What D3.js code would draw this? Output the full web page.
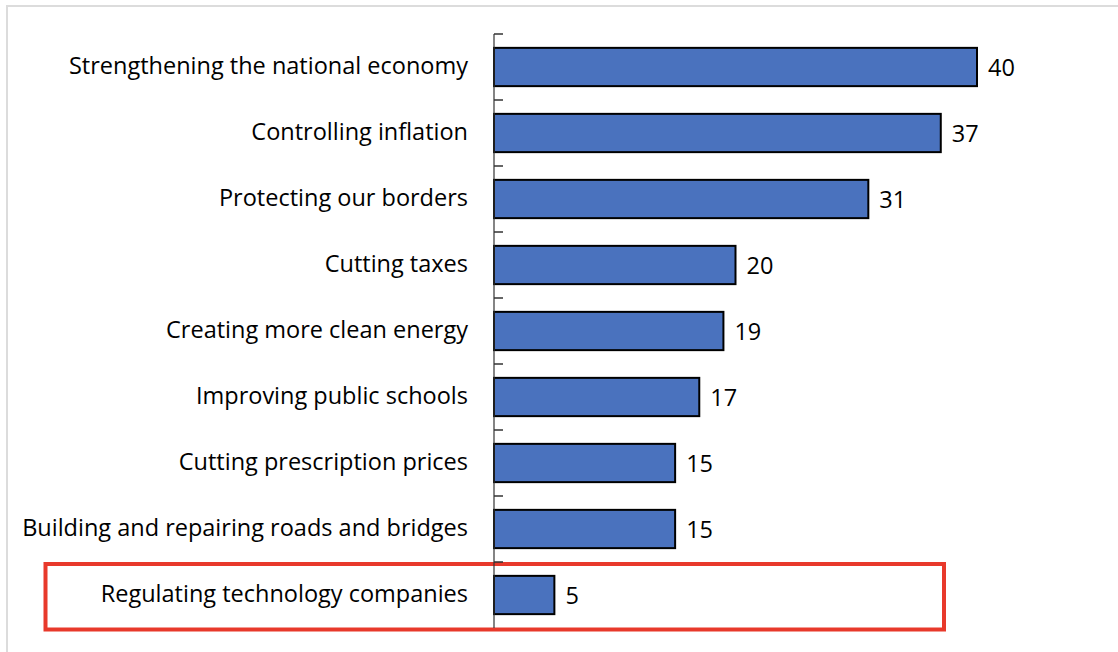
<!DOCTYPE html>
<html>
<head>
<meta charset="utf-8">
<script src="https://cdn.jsdelivr.net/npm/d3@7"></script>
<style>
  html, body { margin: 0; padding: 0; background: #fff; }
  svg { display: block; }
  text { font-family: "Open Sans", Lato, sans-serif; fill: #000; }
</style>
</head>
<body>
<svg id="chart" width="1118" height="652"></svg>
<script>
// Share of respondents naming each item as a top priority
const categories = [
  "Strengthening the national economy",
  "Controlling inflation",
  "Protecting our borders",
  "Cutting taxes",
  "Creating more clean energy",
  "Improving public schools",
  "Cutting prescription prices",
  "Building and repairing roads and bridges",
  "Regulating technology companies"
];
const values = [40, 37, 31, 20, 19, 17, 15, 15, 5];
const highlighted = ["Regulating technology companies"];

const svg = d3.select("#chart");
const W = 1118, H = 652;

// Frame edges
svg.append("line").attr("x1", 6).attr("x2", W).attr("y1", 6).attr("y2", 6)
  .attr("stroke", "#dcdcdc").attr("stroke-width", 2);
svg.append("line").attr("x1", 7).attr("x2", 7).attr("y1", 6).attr("y2", H)
  .attr("stroke", "#dcdcdc").attr("stroke-width", 2);

const x0 = 494;
const x = d3.scaleLinear().domain([0, 40]).range([x0, 977]);
const y = d3.scaleBand().domain(categories).range([34, 628]).paddingInner(0.42).paddingOuter(0.21);
const band = d3.scaleBand().domain(categories).range([34, 628]);

// Highlight box
highlighted.forEach(c => {
  svg.append("rect")
    .attr("x", 45.5).attr("y", band(c) + 2)
    .attr("width", 944 - 45.5).attr("height", band.bandwidth() - 0.5)
    .attr("fill", "none").attr("stroke", "#e8392b").attr("stroke-width", 4);
});

// Bars
svg.append("g").selectAll("rect").data(categories).join("rect")
  .attr("x", x(0))
  .attr("y", d => y(d))
  .attr("width", (d, i) => x(values[i]) - x(0))
  .attr("height", y.bandwidth())
  .attr("fill", "#4a72be")
  .attr("stroke", "#000")
  .attr("stroke-width", 2);

// Category axis with ticks at band boundaries
const axisG = svg.append("g");
axisG.append("line").attr("x1", x0).attr("x2", x0).attr("y1", 34).attr("y2", 628)
  .attr("stroke", "#333").attr("stroke-width", 1.2);
const boundaries = categories.map(c => band(c));
axisG.selectAll("line.tick").data(boundaries).join("line")
  .attr("class", "tick")
  .attr("x1", x0).attr("x2", x0 + 9)
  .attr("y1", d => d).attr("y2", d => d)
  .attr("stroke", "#333").attr("stroke-width", 1.5);

// Category labels
svg.append("g").selectAll("text").data(categories).join("text")
  .attr("x", 468)
  .attr("y", d => y(d) + y.bandwidth() / 2)
  .attr("dy", "0.3em")
  .attr("text-anchor", "end")
  .style("font-size", "23.5px")
  .text(d => d);

// Value labels
svg.append("g").selectAll("text").data(categories).join("text")
  .attr("x", (d, i) => x(values[i]) + 11)
  .attr("y", d => y(d) + y.bandwidth() / 2)
  .attr("dy", "0.4em")
  .style("font-size", "23.5px")
  .text((d, i) => values[i]);
</script>
</body>
</html>
